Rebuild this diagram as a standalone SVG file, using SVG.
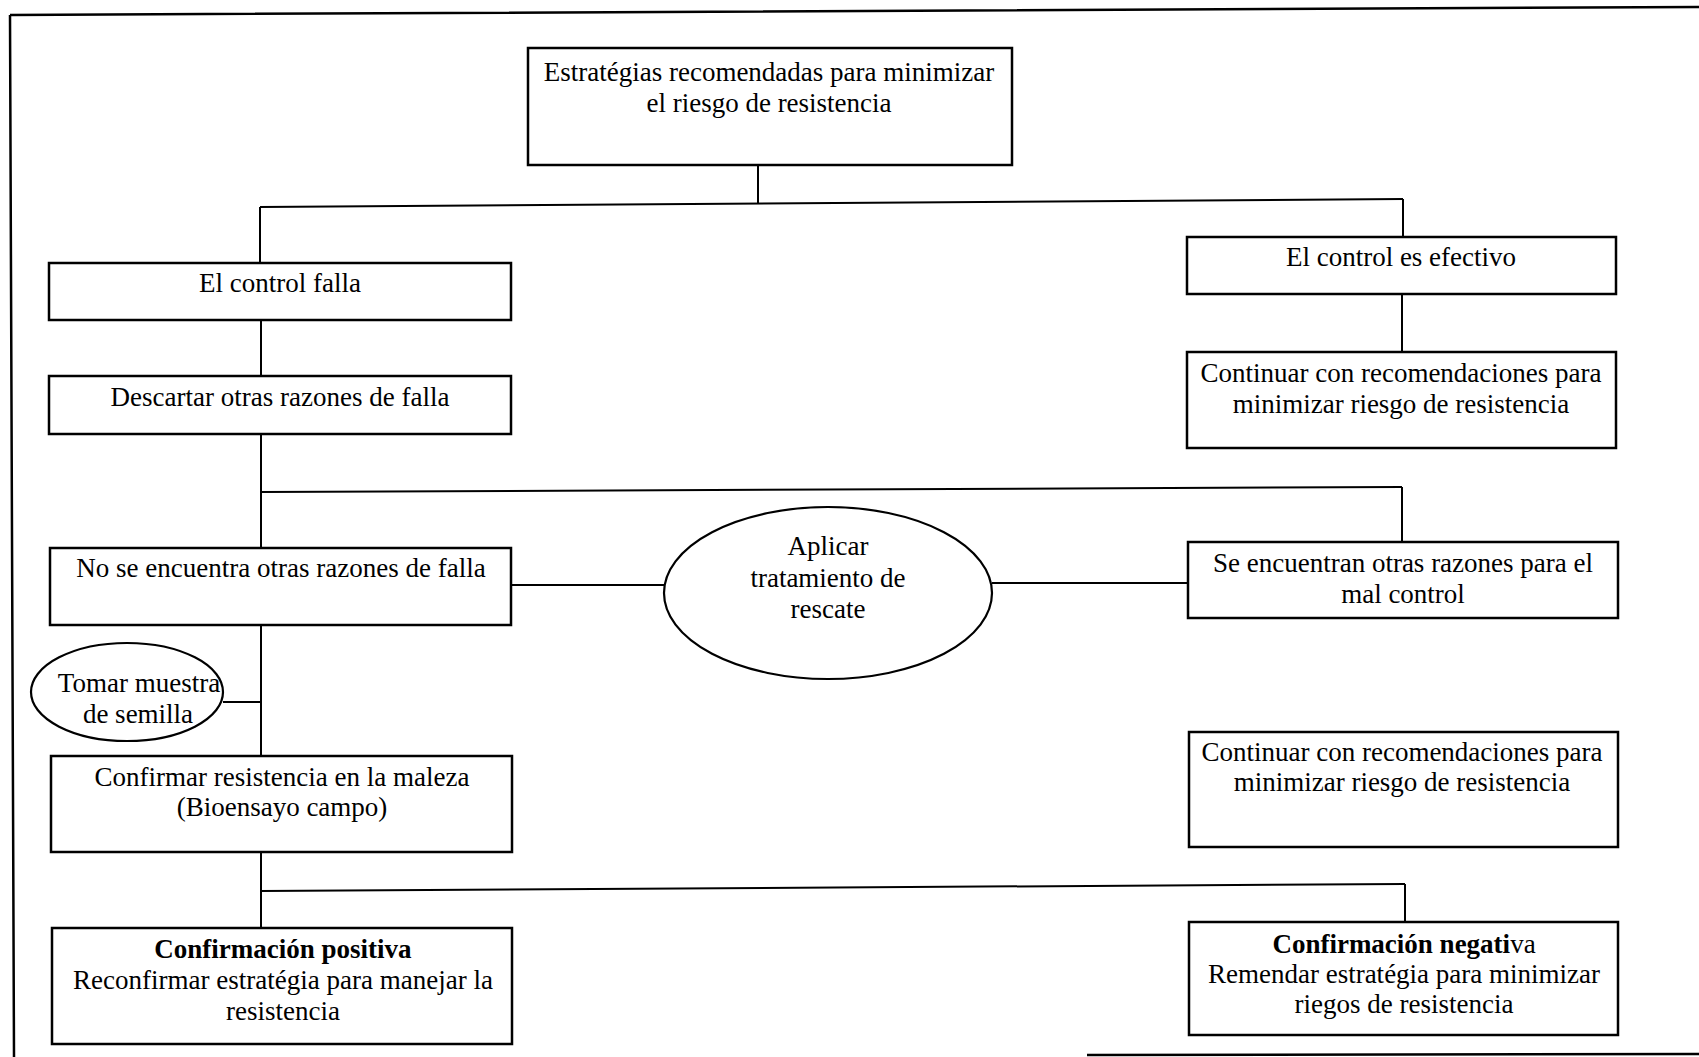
<svg xmlns="http://www.w3.org/2000/svg" width="1699" height="1057" viewBox="0 0 1699 1057">
<style>
.box{fill:#fff;stroke:#000;stroke-width:2.5}
.ell{fill:#fff;stroke:#000;stroke-width:2.2}
.ln{fill:none;stroke:#000;stroke-width:2}
.frame{fill:none;stroke:#000;stroke-width:2.5}
text{font-family:"Liberation Serif","Times New Roman",serif;font-size:27px;fill:#000;text-anchor:middle}
.b{font-weight:bold}
</style>
<rect width="1699" height="1057" fill="#fff"/>
<g id="frame">
<path class="frame" d="M10,15 L1699,7 M10,15 L14,1057 M1087,1055 L1699,1054"/>
</g>
<g id="connectors">
<path class="ln" d="M758,165 L758,203"/>
<path class="ln" d="M260,207 L1403,199"/>
<path class="ln" d="M260,207 L260,263"/>
<path class="ln" d="M1403,199 L1403,237"/>
<path class="ln" d="M1402,294 L1402,352"/>
<path class="ln" d="M261,320 L261,376"/>
<path class="ln" d="M261,434 L261,548"/>
<path class="ln" d="M261,492 L1402,487"/>
<path class="ln" d="M1402,487 L1402,542"/>
<path class="ln" d="M511,585 L664,585"/>
<path class="ln" d="M992,583 L1188,583"/>
<path class="ln" d="M261,625 L261,756"/>
<path class="ln" d="M223,702 L261,702"/>
<path class="ln" d="M261,852 L261,928"/>
<path class="ln" d="M261,891 L1405,884"/>
<path class="ln" d="M1405,884 L1405,922"/>
</g>
<g id="n-estrategias">
<rect class="box" x="528" y="48" width="484" height="117"/>
<text x="769" y="81">Estratégias recomendadas para minimizar</text>
<text x="769" y="112">el riesgo de resistencia</text>
</g>
<g id="n-control-falla">
<rect class="box" x="49" y="263" width="462" height="57"/>
<text x="280" y="292">El control falla</text>
</g>
<g id="n-control-efectivo">
<rect class="box" x="1187" y="237" width="429" height="57"/>
<text x="1401" y="266">El control es efectivo</text>
</g>
<g id="n-continuar-1">
<rect class="box" x="1187" y="352" width="429" height="96"/>
<text x="1401" y="382">Continuar con recomendaciones para</text>
<text x="1401" y="413">minimizar riesgo de resistencia</text>
</g>
<g id="n-descartar">
<rect class="box" x="49" y="376" width="462" height="58"/>
<text x="280" y="406">Descartar otras razones de falla</text>
</g>
<g id="n-no-se-encuentra">
<rect class="box" x="50" y="548" width="461" height="77"/>
<text x="281" y="577">No se encuentra otras razones de falla</text>
</g>
<g id="n-aplicar">
<ellipse class="ell" cx="828" cy="593" rx="164" ry="86"/>
<text x="828" y="555">Aplicar</text>
<text x="828" y="587">tratamiento de</text>
<text x="828" y="618">rescate</text>
</g>
<g id="n-se-encuentran">
<rect class="box" x="1188" y="542" width="430" height="76"/>
<text x="1403" y="572">Se encuentran otras razones para el</text>
<text x="1403" y="603">mal control</text>
</g>
<g id="n-tomar-muestra">
<ellipse class="ell" cx="127" cy="692" rx="96" ry="49"/>
<text x="139" y="692">Tomar muestra</text>
<text x="138" y="723">de semilla</text>
</g>
<g id="n-confirmar">
<rect class="box" x="51" y="756" width="461" height="96"/>
<text x="282" y="786">Confirmar resistencia en la maleza</text>
<text x="282" y="816">(Bioensayo campo)</text>
</g>
<g id="n-continuar-2">
<rect class="box" x="1189" y="732" width="429" height="115"/>
<text x="1402" y="761">Continuar con recomendaciones para</text>
<text x="1402" y="791">minimizar riesgo de resistencia</text>
</g>
<g id="n-positiva">
<rect class="box" x="52" y="928" width="460" height="116"/>
<text x="283" y="958" class="b">Confirmación positiva</text>
<text x="283" y="989">Reconfirmar estratégia para manejar la</text>
<text x="283" y="1020">resistencia</text>
</g>
<g id="n-negativa">
<rect class="box" x="1189" y="922" width="429" height="113"/>
<text x="1404" y="953"><tspan class="b">Confirmación negati</tspan>va</text>
<text x="1404" y="983">Remendar estratégia para minimizar</text>
<text x="1404" y="1013">riegos de resistencia</text>
</g>
</svg>
